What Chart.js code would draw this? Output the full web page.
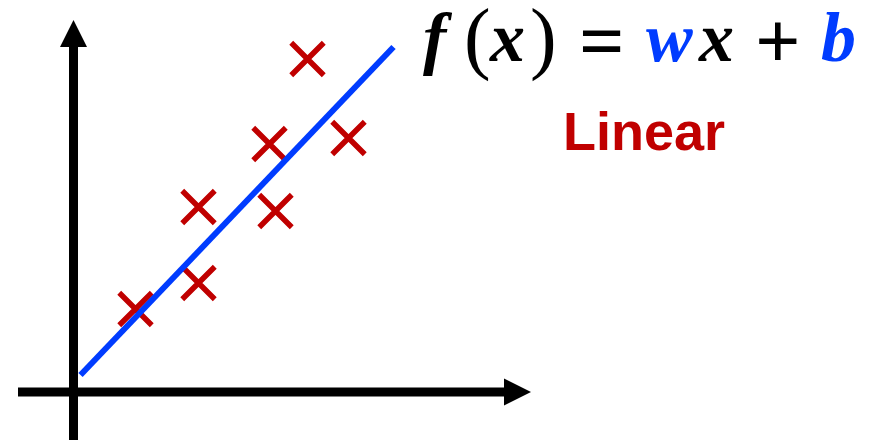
<!DOCTYPE html>
<html>
<head>
<meta charset="utf-8">
<script src="https://cdn.jsdelivr.net/npm/chart.js@4/dist/chart.umd.min.js"></script>
<style>
  html, body { margin: 0; padding: 0; background: #fff; }
  #wrap { position: relative; width: 872px; height: 440px; overflow: hidden; }
  #chart { position: absolute; left: 0; top: 0; }
  .eq { position: absolute; top: 3px; font-family: "Liberation Serif", serif; font-size: 70px; line-height: 70px; white-space: nowrap; }
  .var { font-weight: bold; font-style: italic; }
  .op { font-weight: bold; font-size: 80px; line-height: 80px; top: 1px; }
  .par { font-size: 80px; line-height: 80px; top: -3px; }
  .blue { color: #003cff; }
  .black { color: #000; }
  #label { position: absolute; left: 563px; top: 104px; font-family: "Liberation Sans", Arial, sans-serif; font-weight: bold; font-size: 54px; line-height: 54px; color: #c00000; }
</style>
</head>
<body>
<div id="wrap">
  <canvas id="chart" width="872" height="440"></canvas>
  <span class="eq var black" style="left:423px">f</span>
  <span class="eq par black" style="left:464px">(</span>
  <span class="eq var black" style="left:490px">x</span>
  <span class="eq par black" style="left:530px">)</span>
  <span class="eq op black" style="left:579px">=</span>
  <span class="eq var blue" style="left:646px">w</span>
  <span class="eq var black" style="left:699px">x</span>
  <span class="eq op black" style="left:755px">+</span>
  <span class="eq var blue" style="left:821px">b</span>
  <div id="label">Linear</div>
</div>
<script>
// sample points
const pointX = [1.24, 2.5, 2.5, 4.04, 3.92, 5.5, 4.68]
const pointY = [1.66, 2.18, 3.7, 3.62, 4.96, 5.08, 6.66]

// fitted line f(x) = wx + b, drawn between two x values
const lineX = [0.14, 6.4]
const lineY = [0.34, 6.9]

// axis extents (data units), arrow tips at the "to" end
const xAxisFrom = -1.11
const xAxisTo = 9.15
const yAxisFrom = -1
const yAxisTo = 7.44

const RED = "#c00000"
const BLUE = "#003cff"

const arrowAxes = {
  id: "arrowAxes",
  beforeDatasetsDraw(chart) {
    const { ctx, scales: { x, y } } = chart
    const ox = x.getPixelForValue(0)
    const oy = y.getPixelForValue(0)
    const head = 27, half = 13.5
    ctx.save()
    ctx.strokeStyle = "#000"
    ctx.fillStyle = "#000"
    ctx.lineWidth = 9
    ctx.lineCap = "butt"

    // horizontal axis
    const hx0 = x.getPixelForValue(xAxisFrom)
    const hx1 = x.getPixelForValue(xAxisTo)
    ctx.beginPath()
    ctx.moveTo(hx0, oy)
    ctx.lineTo(hx1 - head + 1, oy)
    ctx.stroke()
    ctx.beginPath()
    ctx.moveTo(hx1, oy)
    ctx.lineTo(hx1 - head, oy - half)
    ctx.lineTo(hx1 - head, oy + half)
    ctx.closePath()
    ctx.fill()

    // vertical axis
    const vy0 = y.getPixelForValue(yAxisFrom)
    const vy1 = y.getPixelForValue(yAxisTo)
    ctx.beginPath()
    ctx.moveTo(ox, vy0)
    ctx.lineTo(ox, vy1 + head - 1)
    ctx.stroke()
    ctx.beginPath()
    ctx.moveTo(ox, vy1)
    ctx.lineTo(ox - half, vy1 + head)
    ctx.lineTo(ox + half, vy1 + head)
    ctx.closePath()
    ctx.fill()
    ctx.restore()
  }
}

const ctx = document.getElementById("chart").getContext("2d")
new Chart(ctx, {
  type: "scatter",
  data: {
    datasets: [
      {
        type: "line",
        label: "f(x) = wx + b",
        data: lineX.map((v, i) => ({ x: v, y: lineY[i] })),
        borderColor: BLUE,
        borderWidth: 6,
        borderCapStyle: "butt",
        pointRadius: 0,
        fill: false
      },
      {
        label: "data",
        data: pointX.map((v, i) => ({ x: v, y: pointY[i] })),
        pointStyle: "crossRot",
        pointRadius: 23,
        pointHoverRadius: 23,
        borderColor: RED,
        backgroundColor: RED,
        borderWidth: 5.5
      }
    ]
  },
  options: {
    responsive: false,
    animation: false,
    layout: { padding: 0, autoPadding: false },
    plugins: { legend: { display: false }, tooltip: { enabled: false } },
    scales: {
      x: { type: "linear", display: false, min: -1.47, max: 15.97 },
      y: { type: "linear", display: false, min: -0.96, max: 7.84 }
    }
  },
  plugins: [arrowAxes]
})
</script>
</body>
</html>
